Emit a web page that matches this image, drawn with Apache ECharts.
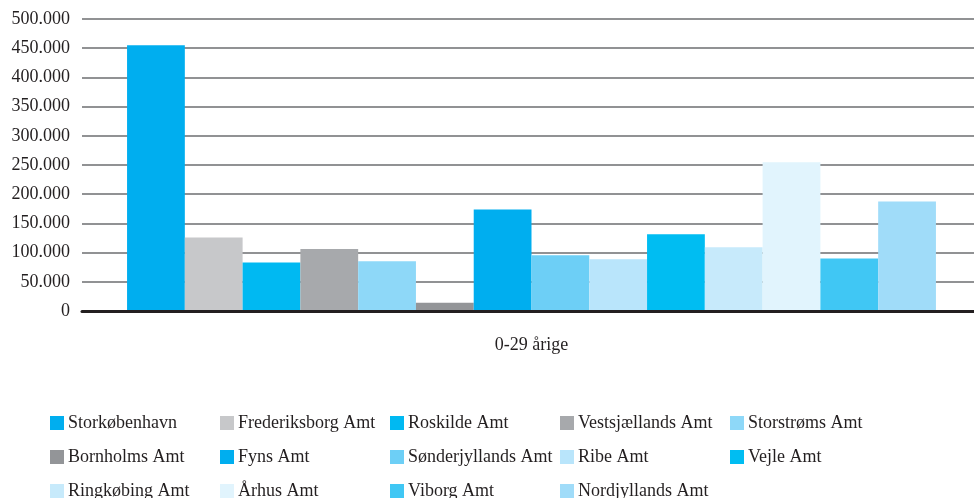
<!DOCTYPE html>
<html>
<head>
<meta charset="utf-8">
<script src="https://cdn.jsdelivr.net/npm/echarts@6/dist/echarts.min.js"></script>
<style>
  html, body { margin: 0; padding: 0; background: #fff; }
  #pic { width: 974px; height: 498px; }
</style>
</head>
<body>
<div id="pic"></div>
<script>
var category = ['0-29 årige'];
var regions = ['Storkøbenhavn', 'Frederiksborg Amt', 'Roskilde Amt', 'Vestsjællands Amt', 'Storstrøms Amt',
  'Bornholms Amt', 'Fyns Amt', 'Sønderjyllands Amt', 'Ribe Amt', 'Vejle Amt',
  'Ringkøbing Amt', 'Århus Amt', 'Viborg Amt', 'Nordjyllands Amt'];
var values = [455000, 126000, 83000, 106000, 85000, 14000, 174000, 95500, 88500, 131500, 109000, 254500, 90000, 187500];
var colors = ['#00AEEF', '#C7C8CA', '#00B9F2', '#A7A9AC', '#8ED8F8',
  '#939598', '#00AEEF', '#6DCFF6', '#B9E5FB', '#00BDF2',
  '#C7EAFB', '#E1F4FD', '#40C7F4', '#A0DCF9'];

var chart = echarts.init(document.getElementById('pic'));
var font = '"Liberation Serif", "DejaVu Serif", serif';

var series = [];
var legends = [];
for (var i = 0; i < regions.length; i++) {
  series.push({
    name: regions[i],
    type: 'bar',
    xAxisIndex: 1,
    yAxisIndex: 1,
    data: [values[i]],
    barGap: '0%',
    barCategoryGap: '8.6%',
    itemStyle: { color: colors[i] },
    animation: false
  });
  legends.push({
    data: [regions[i]],
    left: 45 + (i % 5) * 170,
    top: 409 + Math.floor(i / 5) * 34,
    itemWidth: 14,
    itemHeight: 14,
    itemGap: 4,
    icon: 'rect',
    textStyle: { fontFamily: font, fontSize: 18, color: '#231F20', padding: [0, 0, 0, -1] },
    selectedMode: false
  });
}

var option = {
  backgroundColor: '#fff',
  textStyle: { fontFamily: font },
  legend: legends,
  // grid 0 carries the gridlines and labels, grid 1 the bars
  grid: [
    { left: 82, right: 0, top: 19, bottom: 187, containLabel: false },
    { left: 89, right: 0, top: 19, bottom: 187, containLabel: false }
  ],
  xAxis: [
    {
      type: 'category',
      gridIndex: 0,
      data: category,
      axisTick: { show: false },
      axisLabel: { show: false },
      axisLine: { show: true, lineStyle: { color: '#231F20', width: 3 } },
      z: 10
    },
    {
      type: 'category',
      gridIndex: 1,
      data: category,
      axisTick: { show: false },
      axisLine: { show: false },
      axisLabel: { fontFamily: font, fontSize: 18, color: '#231F20', margin: 25 }
    }
  ],
  yAxis: [
    {
      type: 'value',
      gridIndex: 0,
      min: 0,
      max: 500000,
      interval: 50000,
      axisLine: { show: false },
      axisTick: { show: false },
      splitLine: { lineStyle: { color: '#6D6E71', width: 1.5 } },
      axisLabel: {
        fontFamily: font,
        fontSize: 18,
        color: '#231F20',
        margin: 12,
        formatter: function (v) {
          return v === 0 ? '0' : (v / 1000) + '.000';
        }
      }
    },
    {
      type: 'value',
      gridIndex: 1,
      min: 0,
      max: 500000,
      interval: 50000,
      show: false
    }
  ],
  series: series
};
chart.setOption(option);
</script>
</body>
</html>
